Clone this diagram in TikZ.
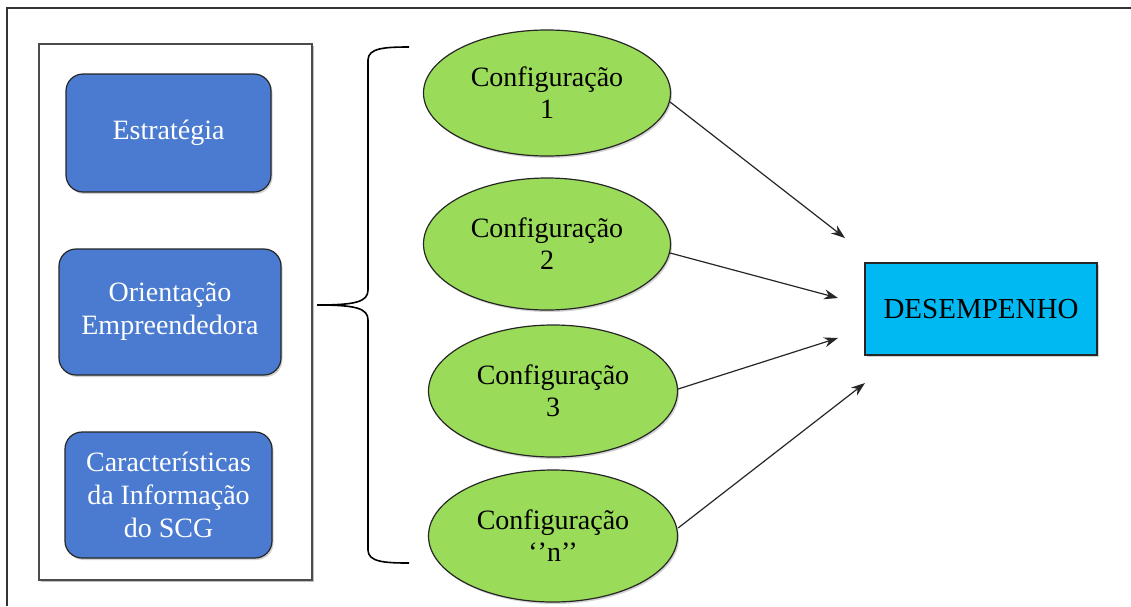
\documentclass[tikz,border=0pt]{standalone}
\usepackage{fontspec}
\setmainfont{Liberation Serif}
\usetikzlibrary{shapes.geometric,shadows,arrows.meta}
\definecolor{boxblue}{RGB}{74,123,208}
\definecolor{ellgreen}{RGB}{155,219,90}
\definecolor{perfcyan}{RGB}{0,185,242}
\tikzset{
  factor/.style={draw=black!85, line width=1.2pt, fill=boxblue, rounded corners=17pt,
    text=white, align=center, font=\fontsize{28}{33}\selectfont, inner sep=0pt,
    drop shadow={shadow xshift=1.5pt, shadow yshift=-2pt, opacity=0.35}},
  config/.style={ellipse, draw=black!85, line width=1.2pt, fill=ellgreen, inner sep=0pt,
    align=center, font=\fontsize{28}{32}\selectfont,
    drop shadow={shadow xshift=1.5pt, shadow yshift=-2pt, opacity=0.35}},
  perf/.style={draw=black!85, line width=1.2pt, fill=perfcyan, inner sep=0pt,
    font=\fontsize{29}{33}\selectfont,
    drop shadow={shadow xshift=1.5pt, shadow yshift=-2pt, opacity=0.35}},
  link/.style={-{Stealth[length=14pt,width=10pt]}, line width=1.2pt, black!85},
  bracelin/.style={line width=1.6pt, black}
}
\begin{document}
\begin{tikzpicture}[x=1pt,y=-1pt]
\useasboundingbox (0,0) rectangle (1131,606);
% outer frame (top and left edges)
\draw[line width=2pt, black!80] (7,606) -- (7,8) -- (1131,8);
% inner container
\node[draw=black!70, line width=1.5pt, fill=white, minimum width=273pt, minimum height=536pt,
  inner sep=0pt, drop shadow={shadow xshift=2pt, shadow yshift=-2pt, opacity=0.5}]
  (cont) at (175.5,312) {};
% factor boxes
\node[factor, minimum width=205pt, minimum height=118pt] (estr) at (168.5,133) {Estratégia};
\node[factor, minimum width=222pt, minimum height=126pt] (orie) at (170,312) {Orientação\\Empreendedora};
\node[factor, minimum width=207pt, minimum height=126pt] (cara) at (168.5,495) {Características\\da Informação\\do SCG};
% configurations
\node[config, minimum width=247pt, minimum height=126pt] (c1) at (547,93) {Configuração\\1};
\node[config, minimum width=247pt, minimum height=132pt] (c2) at (547,244) {Configuração\\2};
\node[config, minimum width=249pt, minimum height=132pt] (c3) at (553,391) {Configuração\\3};
\node[config, minimum width=249pt, minimum height=132pt] (cn) at (553,536) {Configuração\\‘’n’’};
% performance
\node[perf, minimum width=232pt, minimum height=92pt] (des) at (981,309) {DESEMPENHO};
% brace
\coordinate (btop) at (409,47);
\coordinate (bbot) at (409,563);
\coordinate (btip) at (317,305);
\draw[bracelin] (btop) .. controls (385,47) and (368,48) .. (368,60)
  -- (368,290) .. controls (368,302) and (355,305) .. (btip)
  (btip) .. controls (355,305) and (368,308) .. (368,320)
  -- (368,550) .. controls (368,562) and (385,563) .. (bbot);
% arrows
\coordinate (t1) at (845,238);
\coordinate (t2) at (838,298);
\coordinate (t3) at (838,338);
\coordinate (t4) at (865,383);
\draw[link] (c1.east) ++(-1,9) -- (t1);
\draw[link] (c2.east) ++(-1,9) -- (t2);
\draw[link] (c3.east) ++(0,-2) -- (t3);
\draw[link] (cn.east) ++(0,-8) -- (t4);
\end{tikzpicture}
\end{document}
